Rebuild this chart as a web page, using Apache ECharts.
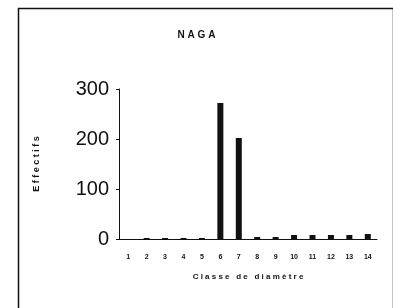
<!DOCTYPE html>
<html>
<head>
<meta charset="utf-8">
<script src="https://cdn.jsdelivr.net/npm/echarts@6/dist/echarts.min.js"></script>
<style>
  html, body { margin: 0; padding: 0; background: #fff; }
  #chart { width: 393px; height: 308px; }
</style>
</head>
<body>
<div id="chart"></div>
<script>
  // classes de diamètre et effectifs
  var classes = ['1', '2', '3', '4', '5', '6', '7', '8', '9', '10', '11', '12', '13', '14']
  var effectifs = [0, 2, 2, 2, 2, 272, 202, 4, 4, 8, 8, 8, 8, 10]
  var yTicks = [0, 100, 200, 300]

  var chart = echarts.init(document.getElementById('chart'))
  chart.setOption({
    animation: false,
    title: {
      text: 'N A G A',
      left: 'center',
      top: 25,
      textStyle: { fontFamily: 'Liberation Sans', fontSize: 10, fontWeight: 'bold', color: '#111' }
    },
    graphic: [{
      type: 'rect',
      left: 16,
      top: 6,
      shape: { width: 375, height: 310 },
      style: { fill: 'none', stroke: '#111', lineWidth: 1.5 }
    }],
    grid: { left: 119, right: 16, top: 89, bottom: 69 },
    xAxis: {
      type: 'category',
      data: classes,
      name: 'C l a s s e   d e   d i a m è t r e',
      nameLocation: 'middle',
      nameGap: 34,
      nameTextStyle: { fontFamily: 'Liberation Sans', fontSize: 8, fontWeight: 'bold', color: '#111' },
      axisLine: { lineStyle: { color: '#111', width: 1 } },
      axisTick: { show: false },
      axisLabel: { margin: 15, fontFamily: 'Liberation Sans', fontSize: 7, fontWeight: 'bold', color: '#111' }
    },
    yAxis: {
      type: 'value',
      min: yTicks[0],
      max: yTicks[yTicks.length - 1],
      interval: 100,
      name: 'E f f e c t i f s',
      nameLocation: 'middle',
      nameGap: 78,
      nameTextStyle: { fontFamily: 'Liberation Sans', fontSize: 9, fontWeight: 'bold', color: '#111' },
      splitLine: { show: false },
      axisLine: { show: true, lineStyle: { color: '#111', width: 1 } },
      axisTick: { show: true, length: 3, lineStyle: { color: '#111' } },
      axisLabel: { margin: 10, fontFamily: 'Liberation Sans', fontSize: 20, color: '#111' }
    },
    series: [{
      type: 'bar',
      data: effectifs,
      barWidth: 6,
      itemStyle: { color: '#111' }
    }]
  })
</script>
</body>
</html>
